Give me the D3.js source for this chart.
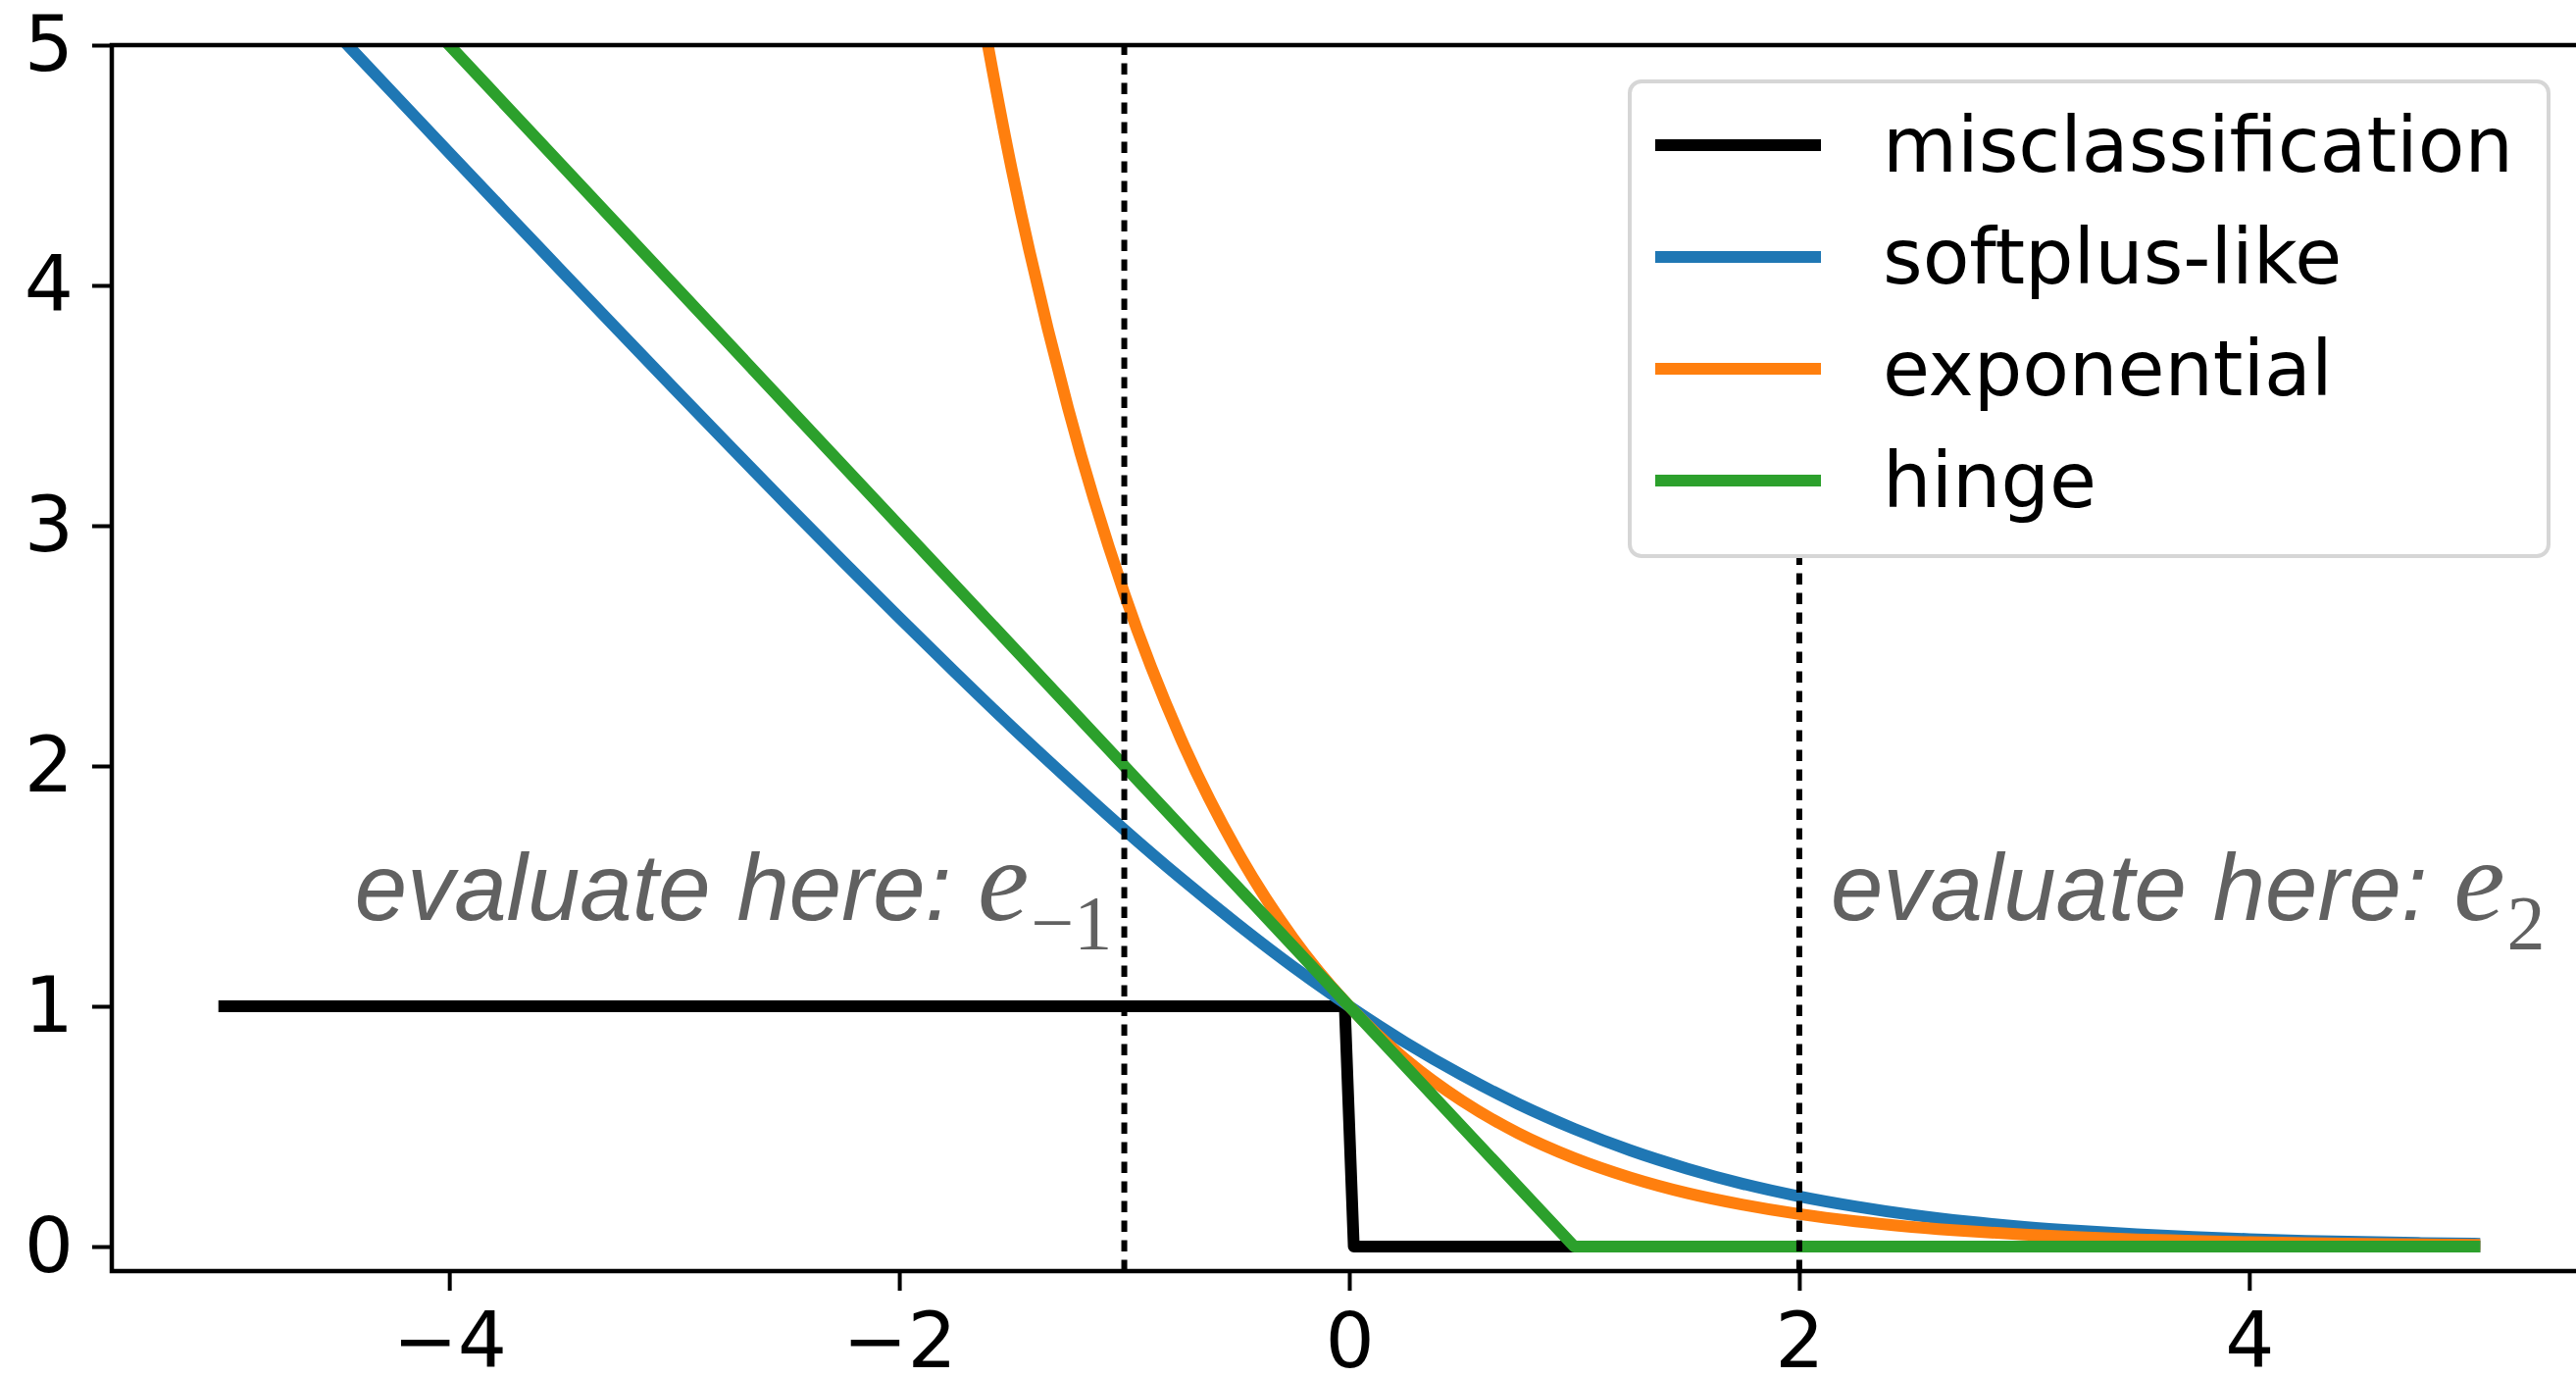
<html>
<head>
<meta charset="utf-8">
<style>
  body { margin: 0; background: #fff; }
  svg { display: block; font-family: "DejaVu Sans", sans-serif; }
  .axis path, .axis line { stroke: #000; }
  .axis text { fill: #000; }
  .note { white-space: pre; }
</style>
<script src="https://cdn.jsdelivr.net/npm/d3@7"></script>
</head>
<body>
<div id="chart"></div>
<script type="text/javascript">

// values
var xs = [-5, -4.75, -4.5, -4.25, -4, -3.75, -3.5, -3.25, -3, -2.75, -2.5, -2.25, -2, -1.75, -1.5, -1.25,
          -1, -0.75, -0.5, -0.25, 0, 0.25, 0.5, 0.75, 1, 1.25, 1.5, 1.75, 2, 2.25, 2.5, 2.75,
          3, 3.25, 3.5, 3.75, 4, 4.25, 4.5, 4.75, 5];

var softplusLike = [5.545, 5.296, 5.048, 4.800, 4.552, 4.305, 4.059, 3.814, 3.570, 3.328, 3.088, 2.851, 2.617, 2.388, 2.163, 1.946,
                    1.735, 1.534, 1.344, 1.165, 1.0, 0.849, 0.714, 0.594, 0.490, 0.400, 0.325, 0.261, 0.209, 0.167, 0.132, 0.104,
                    0.082, 0.065, 0.051, 0.040, 0.031, 0.024, 0.019, 0.015, 0.012];

var expX = [-1.75, -1.5, -1.25, -1, -0.75, -0.5, -0.25, 0, 0.25, 0.5, 0.75, 1, 1.25, 1.5, 1.75, 2, 2.25, 2.5, 2.75,
            3, 3.25, 3.5, 3.75, 4, 4.25, 4.5, 4.75, 5];
var exponential = [5.755, 4.482, 3.490, 2.718, 2.117, 1.649, 1.284, 1.0, 0.779, 0.607, 0.472, 0.368, 0.287, 0.223, 0.174, 0.135, 0.105, 0.082, 0.064,
                   0.050, 0.039, 0.030, 0.024, 0.018, 0.014, 0.011, 0.009, 0.007];

var hingeX = [-5, 1, 5];
var hinge = [6, 0, 0];

var misX = [-5, -0.02, 0.02, 5];
var misclassification = [1, 1, 0, 0];

// evaluation points and how high their dotted line reaches
var markers = [-1, 2];
var markerTops = [5, 4];
var notes = [
  {x: -4.42, y: 1.36, sub: "\u22121"},
  {x: 2.14, y: 1.36, sub: "2"}
];

var xTicks = [-4, -2, 0, 2, 4];
var yTicks = [0, 1, 2, 3, 4, 5];

var W = 2627, H = 1404;
var padL = 114, padR = 2638, padT = 46, padB = 1296;

var svg = d3.select("#chart").append("svg")
  .attr("width", W).attr("height", H);

svg.append("rect").attr("width", W).attr("height", H).attr("fill", "#fff");

var x = d3.scaleLinear().domain([-5.5, 5.5]).range([padL, padR]);
var y = d3.scaleLinear().domain([-0.102, 5]).range([padB, padT]);

svg.append("clipPath").attr("id", "plot")
  .append("rect").attr("x", padL).attr("y", padT)
  .attr("width", padR - padL).attr("height", padB - padT);

var plot = svg.append("g").attr("clip-path", "url(#plot)");

var line = d3.line()
  .x(function (d) { return x(d[0]); })
  .y(function (d) { return y(d[1]); });

var series = [
  {name: "misclassification", color: "#000000", xv: misX, yv: misclassification, curve: d3.curveLinear},
  {name: "softplus-like", color: "#1f77b4", xv: xs, yv: softplusLike, curve: d3.curveMonotoneX},
  {name: "exponential", color: "#ff7f0e", xv: expX, yv: exponential, curve: d3.curveMonotoneX},
  {name: "hinge", color: "#2ca02c", xv: hingeX, yv: hinge, curve: d3.curveLinear}
];

series.forEach(function (s) {
  var pts = s.xv.map(function (v, i) { return [v, s.yv[i]]; });
  plot.append("path")
    .attr("d", line.curve(s.curve)(pts))
    .attr("fill", "none")
    .attr("stroke", s.color)
    .attr("stroke-width", 12)
    .attr("stroke-linejoin", "round")
    .attr("stroke-linecap", "square");
});

// dotted evaluation lines
plot.selectAll("line.mark")
  .data(markers)
  .enter().append("line")
  .attr("class", "mark")
  .attr("x1", function (d) { return x(d); })
  .attr("x2", function (d) { return x(d); })
  .attr("y1", padB)
  .attr("y2", function (d, i) { return y(markerTops[i]); })
  .attr("stroke", "#000")
  .attr("stroke-width", 6)
  .attr("stroke-dasharray", "11.5,8.5");

// annotations
var note = svg.selectAll("text.note")
  .data(notes)
  .enter().append("text")
  .attr("class", "note")
  .attr("x", function (d) { return x(d.x); })
  .attr("y", function (d) { return y(d.y); })
  .attr("fill", "#616161");
note.append("tspan")
  .attr("font-family", "'Liberation Sans', Arial, sans-serif")
  .attr("font-style", "italic")
  .attr("font-size", 96)
  .text("evaluate here: ");
note.append("tspan")
  .attr("font-family", "'Liberation Serif', serif")
  .attr("font-style", "italic")
  .attr("font-size", 118)
  .text("e");
note.append("tspan")
  .attr("font-family", "'Liberation Serif', serif")
  .attr("font-size", 78)
  .attr("dx", 2)
  .attr("dy", 29)
  .text(function (d) { return d.sub; });

// axes
var fmt = d3.format("d");
var xAxis = svg.append("g").attr("class", "axis")
  .attr("transform", "translate(0," + padB + ")")
  .call(d3.axisBottom(x).tickValues(xTicks).tickFormat(fmt).tickSize(20).tickPadding(22).tickSizeOuter(0));
var yAxis = svg.append("g").attr("class", "axis")
  .attr("transform", "translate(" + padL + ",0)")
  .call(d3.axisLeft(y).tickValues(yTicks).tickFormat(fmt).tickSize(20).tickPadding(19).tickSizeOuter(0));

[xAxis, yAxis].forEach(function (a) {
  a.selectAll("text").attr("font-size", 79).attr("font-family", "'DejaVu Sans', sans-serif");
  a.selectAll("line").attr("stroke-width", 4);
  a.select(".domain").remove();
});

// spines
svg.append("rect")
  .attr("x", padL).attr("y", padT)
  .attr("width", padR - padL).attr("height", padB - padT)
  .attr("fill", "none").attr("stroke", "#000").attr("stroke-width", 4.5);

// legend
var lg = svg.append("g");
lg.append("rect")
  .attr("x", 1662).attr("y", 83).attr("width", 937).attr("height", 484)
  .attr("rx", 12).attr("ry", 12)
  .attr("fill", "#fff")
  .attr("stroke", "#d6d6d6").attr("stroke-width", 4);

var row = lg.selectAll("g.row")
  .data(series)
  .enter().append("g")
  .attr("class", "row")
  .attr("transform", function (d, i) { return "translate(0," + (148 + i * 114) + ")"; });
row.append("line")
  .attr("x1", 1688).attr("x2", 1857)
  .attr("stroke", function (d) { return d.color; })
  .attr("stroke-width", 12);
row.append("text")
  .attr("x", 1920).attr("y", 27)
  .attr("font-size", 78)
  .text(function (d) { return d.name; });

</script>
</body>
</html>
